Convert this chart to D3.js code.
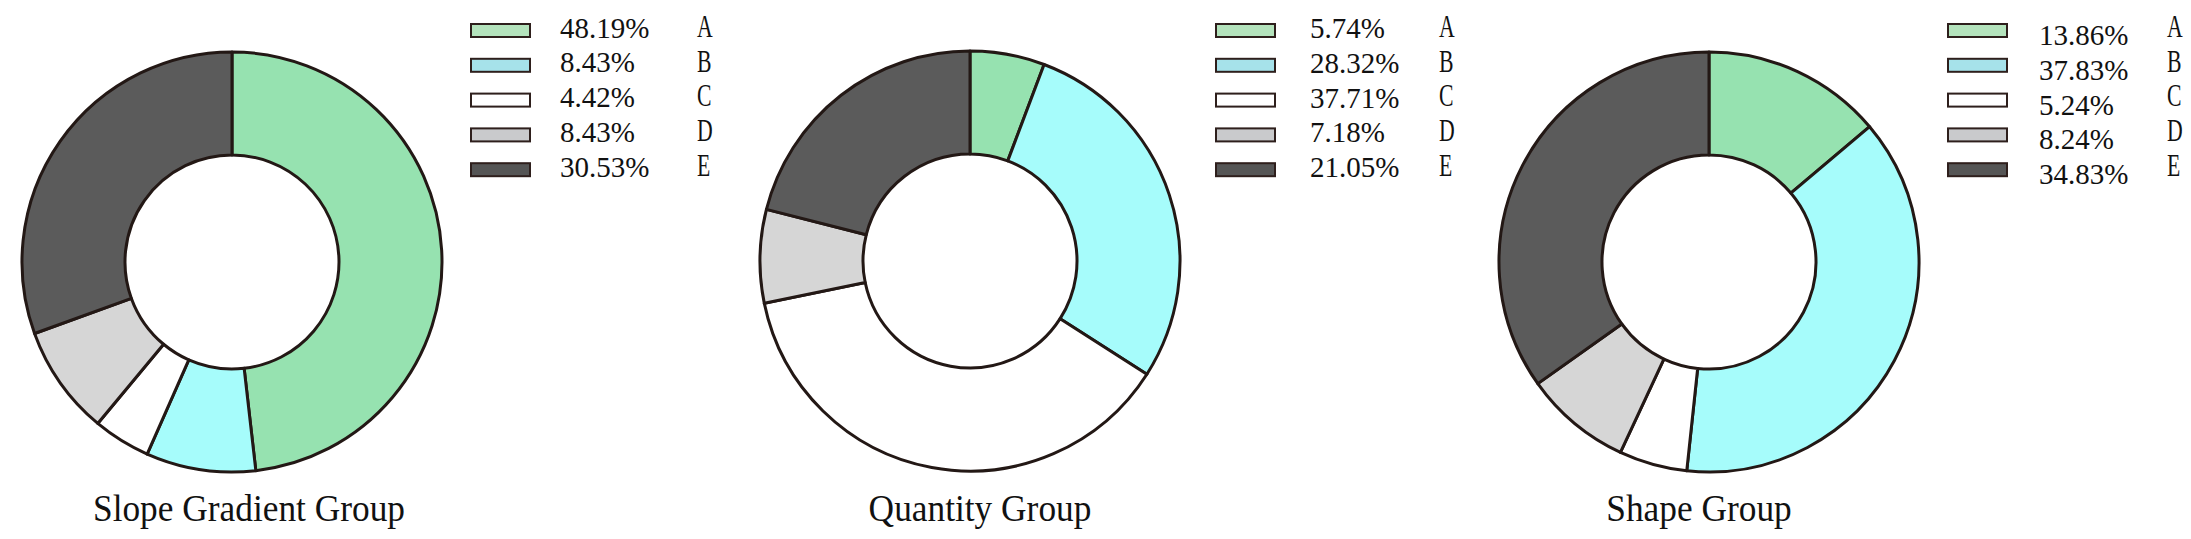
<!doctype html>
<html lang="en">
<head>
  <meta charset="utf-8">
  <title>Group composition donuts</title>
  <script src="https://d3js.org/d3.v7.min.js"></script>
  <style>
    html, body { margin: 0; padding: 0; background: #fff; }
    svg text { font-family: "Liberation Serif", "Times New Roman", serif; fill: #111; }
  </style>
</head>
<body>
  <div id="chart"></div>
  <script>
  // data
  var categories = ["A", "B", "C", "D", "E"];
  var groups = ["Slope Gradient Group", "Quantity Group", "Shape Group"];
  var slopeValues = [48.19, 8.43, 4.42, 8.43, 30.53];
  var quantityValues = [5.74, 28.32, 37.71, 7.18, 21.05];
  var shapeValues = [13.86, 37.83, 5.24, 8.24, 34.83];

  var width = 2191,
      height = 539,
      outerR = 210,
      innerR = 107;

  // slice fills and the (slightly different) legend swatch fills
  var sliceColor = d3.scaleOrdinal().domain(categories)
      .range(["#96e2b0", "#a6fcfb", "#ffffff", "#d6d6d6", "#5b5b5b"]);
  var keyColor = d3.scaleOrdinal().domain(categories)
      .range(["#b4e3bc", "#a6e2ea", "#ffffff", "#c9cacc", "#555555"]);

  // per-panel placement
  var panels = [
    {cx: 232, cy: 262, keyX: 471, pctX: 560, letterX: 697, titleX: 249, pctDy: 7},
    {cx: 970, cy: 261, keyX: 1216, pctX: 1310, letterX: 1439, titleX: 980, pctDy: 7.5},
    {cx: 1709, cy: 262, keyX: 1948, pctX: 2039, letterX: 2167, titleX: 1699, pctDy: 14.5}
  ];
  var seriesList = [slopeValues, quantityValues, shapeValues];

  var svg = d3.select("#chart").append("svg")
      .attr("width", width)
      .attr("height", height)
      .attr("font-family", "Liberation Serif, Times New Roman, serif");

  var pie = d3.pie().sort(null).value(function(d){ return d; });
  var arc = d3.arc().innerRadius(innerR).outerRadius(outerR);
  var rowY = d3.scalePoint().domain(categories).range([30.5, 169.7]);

  panels.forEach(function(p, gi){
    var values = seriesList[gi];
    var g = svg.append("g");

    g.append("g")
      .attr("transform", "translate(" + p.cx + "," + p.cy + ")")
      .selectAll("path")
      .data(pie(values))
      .enter().append("path")
      .attr("d", arc)
      .attr("fill", function(d, i){ return sliceColor(categories[i]); })
      .attr("stroke", "#231815")
      .attr("stroke-width", 3)
      .attr("stroke-linejoin", "round");

    // legend
    var rows = g.selectAll("g.row")
      .data(values)
      .enter().append("g")
      .attr("class", "row");

    rows.append("rect")
      .attr("x", p.keyX)
      .attr("y", function(d, i){ return rowY(categories[i]) - 6.5; })
      .attr("width", 59)
      .attr("height", 13)
      .attr("fill", function(d, i){ return keyColor(categories[i]); })
      .attr("stroke", "#2e1f1c")
      .attr("stroke-width", 2);

    rows.append("text")
      .attr("x", p.pctX)
      .attr("y", function(d, i){ return rowY(categories[i]) + p.pctDy; })
      .style("font-size", "29px")
      .text(function(d){ return d.toFixed(2) + "%"; });

    rows.append("text")
      .attr("transform", function(d, i){
        return "translate(" + p.letterX + "," + (rowY(categories[i]) + 6.2) + ") scale(0.68,1)";
      })
      .style("font-size", "32px")
      .text(function(d, i){ return categories[i]; });

    g.append("text")
      .attr("transform", "translate(" + p.titleX + ",521) scale(0.93,1)")
      .attr("text-anchor", "middle")
      .style("font-size", "38px")
      .text(groups[gi]);
  });
  </script>
</body>
</html>
